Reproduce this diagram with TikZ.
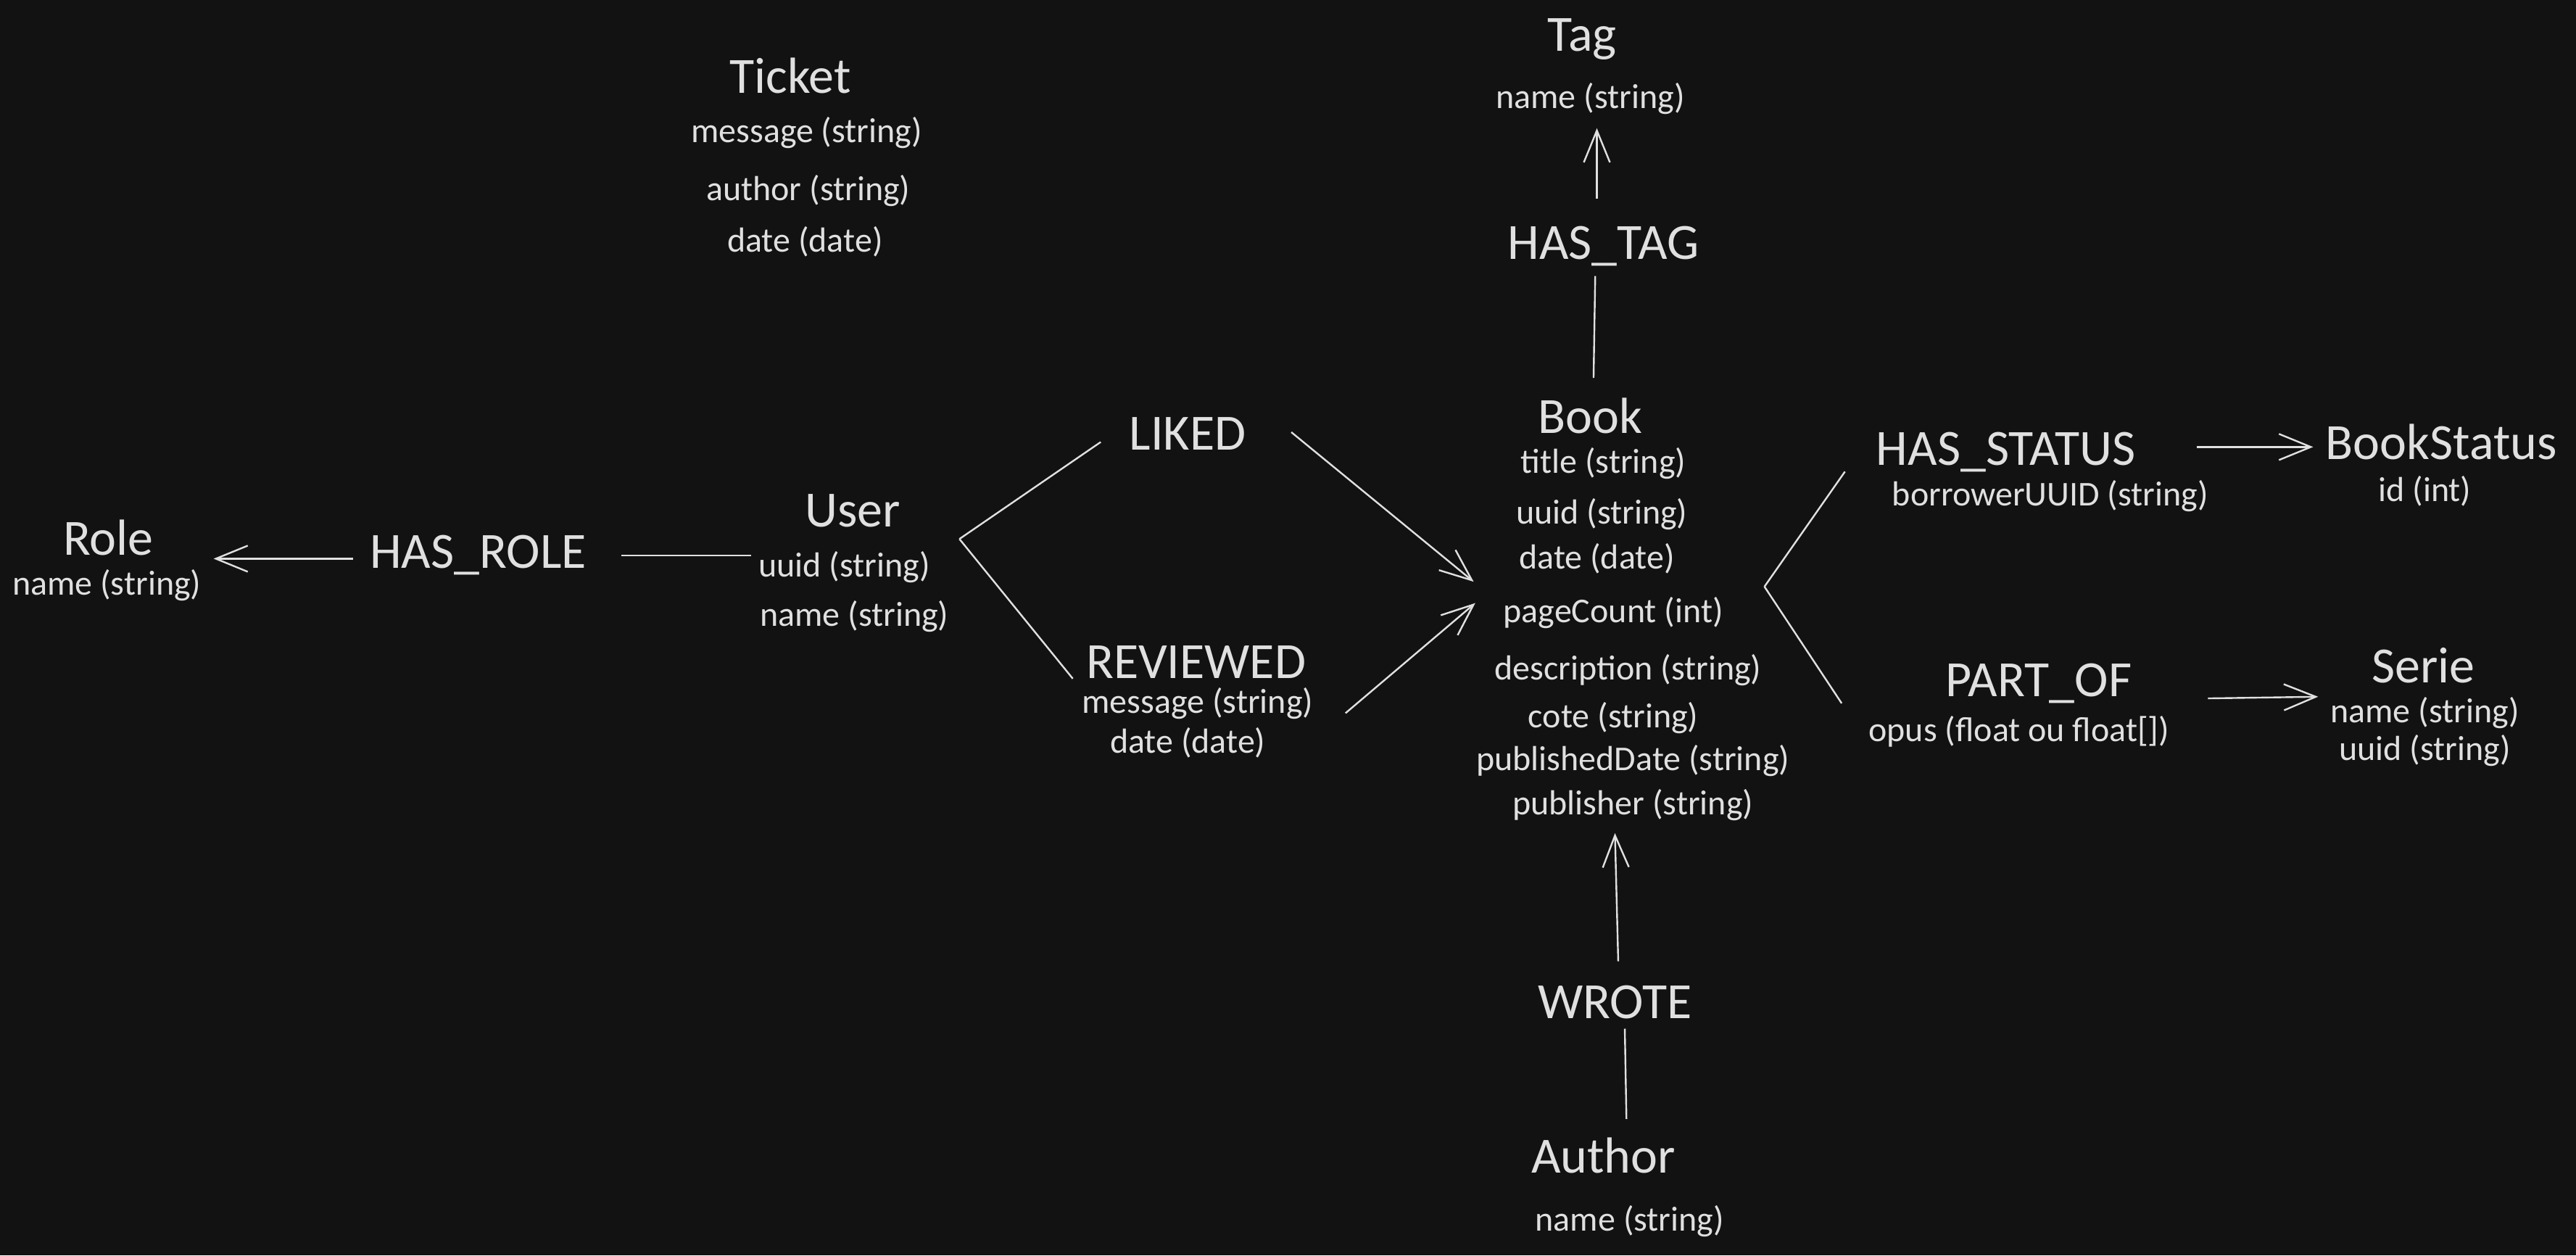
\documentclass[tikz,border=0pt]{standalone}
\usepackage{fontspec}
\setmainfont{Carlito}
\usetikzlibrary{arrows.meta}
\definecolor{bgdark}{HTML}{121212}
\definecolor{inkgray}{HTML}{E0E0E0}
\tikzset{every picture/.style={line width=0.6pt}}
\tikzset{
  entity/.style={text=inkgray, inner sep=0pt, font=\fontsize{17.5}{20}\selectfont},
  attr/.style={text=inkgray, inner sep=0pt, font=\fontsize{12}{14}\selectfont},
  rel/.style={draw=inkgray},
  relarrow/.style={draw=inkgray, -{Straight Barb[length=11pt,width=9pt]}}
}
\begin{document}
\begin{tikzpicture}[x=0.5665pt,y=0.5665pt,yscale=-1,xscale=1]
    \useasboundingbox (0,0) rectangle (1568,764);
    \fill[bgdark] (0,0) rectangle (1568,764);
    % Text Node
    \draw (963,24) node [entity] (tag) {Tag};
    \draw (968,60) node [attr] (tagname) {name (string)};
    % Text Node
    \draw (976,150) node [entity] (hastag) {HAS\_TAG};
    % Text Node
    \draw (481,46) node [entity] (ticket) {Ticket};
    \draw (491,81) node [attr] (ticketmsg) {message (string)};
    \draw (492,116) node [attr] (ticketauthor) {author (string)};
    \draw (490,147) node [attr] (ticketdate) {date (date)};
    % Text Node
    \draw (968,253) node [entity] (book) {Book};
    \draw (976,282) node [attr] (booktitle) {title (string)};
    \draw (975,313) node [attr] (bookuuid) {uuid (string)};
    \draw (972,340) node [attr] (bookdate) {date (date)};
    \draw (982,373) node [attr] (bookpages) {pageCount (int)};
    \draw (991,408) node [attr] (bookdesc) {description (string)};
    \draw (982,437) node [attr] (bookcote) {cote (string)};
    \draw (994,463) node [attr] (bookpubdate) {publishedDate (string)};
    \draw (994,490) node [attr] (bookpublisher) {publisher (string)};
    % Text Node
    \draw (519,311) node [entity] (user) {User};
    \draw (514,345) node [attr] (useruuid) {uuid (string)};
    \draw (520,375) node [attr] (username) {name (string)};
    % Text Node
    \draw (66,327) node [entity] (role) {Role};
    \draw (65,356) node [attr] (rolename) {name (string)};
    % Text Node
    \draw (291,338) node [entity] (hasrole) {HAS\_ROLE};
    % Text Node
    \draw (723,264) node [entity] (liked) {LIKED};
    % Text Node
    \draw (728,403) node [entity] (reviewed) {REVIEWED};
    \draw (729,428) node [attr] (revmsg) {message (string)};
    \draw (723,452) node [attr] (revdate) {date (date)};
    % Text Node
    \draw (1221,275) node [entity] (hasstatus) {HAS\_STATUS};
    \draw (1248,302) node [attr] (hasstatusattr) {borrowerUUID (string)};
    % Text Node
    \draw (1486,269) node [entity] (bookstatus) {BookStatus};
    \draw (1476,299) node [attr] (bookstatusid) {id (int)};
    % Text Node
    \draw (1241,416) node [entity] (partof) {PART\_OF};
    \draw (1229,445) node [attr] (partofattr) {opus (float ou float[])};
    % Text Node
    \draw (1475,405) node [entity] (serie) {Serie};
    \draw (1476,434) node [attr] (seriename) {name (string)};
    \draw (1476,457) node [attr] (serieuuid) {uuid (string)};
    % Text Node
    \draw (983,610) node [entity] (wrote) {WROTE};
    % Text Node
    \draw (976,703) node [entity] (author) {Author};
    \draw (992,743) node [attr] (authorname) {name (string)};
    % Hubs
    \coordinate (userhub) at ([shift={(70,-17)}]useruuid.center);
    \coordinate (bookhub) at ([shift={(102,17)}]bookdate.center);
    %Straight Lines
    \draw [relarrow] ([shift={(-4,-29)}]hastag.center) -- ([shift={(4,18)}]tagname.center);
    %Straight Lines
    \draw [rel] ([shift={(2,-23)}]book.center) -- ([shift={(-5,18)}]hastag.center);
    %Straight Lines
    \draw [relarrow] ([shift={(-76,2)}]hasrole.center) -- ([shift={(64,13)}]role.center);
    %Straight Lines
    \draw [rel] ([shift={(-57,-7)}]useruuid.center) -- ([shift={(87,0)}]hasrole.center);
    %Straight Lines
    \draw [rel] (userhub) -- ([shift={(-53,5)}]liked.center);
    \draw [rel] (userhub) -- ([shift={(-75,10)}]reviewed.center);
    %Straight Lines
    \draw [relarrow] ([shift={(63,-1)}]liked.center) -- ([shift={(-75,14)}]bookdate.center);
    %Straight Lines
    \draw [relarrow] ([shift={(90,6)}]revmsg.center) -- ([shift={(-84,-6)}]bookpages.center);
    %Straight Lines
    \draw [rel] (bookhub) -- ([shift={(-98,12)}]hasstatus.center);
    \draw [rel] (bookhub) -- ([shift={(-120,12)}]partof.center);
    %Straight Lines
    \draw [relarrow] ([shift={(116,-3)}]hasstatus.center) -- ([shift={(-78,3)}]bookstatus.center);
    %Straight Lines
    \draw [relarrow] ([shift={(103,9)}]partof.center) -- ([shift={(-64,19)}]serie.center);
    %Straight Lines
    \draw [relarrow] ([shift={(2,-25)}]wrote.center) -- ([shift={(-11,17)}]bookpublisher.center);
    %Straight Lines
    \draw [rel] ([shift={(14,-22)}]author.center) -- ([shift={(6,16)}]wrote.center);
\end{tikzpicture}
\end{document}
